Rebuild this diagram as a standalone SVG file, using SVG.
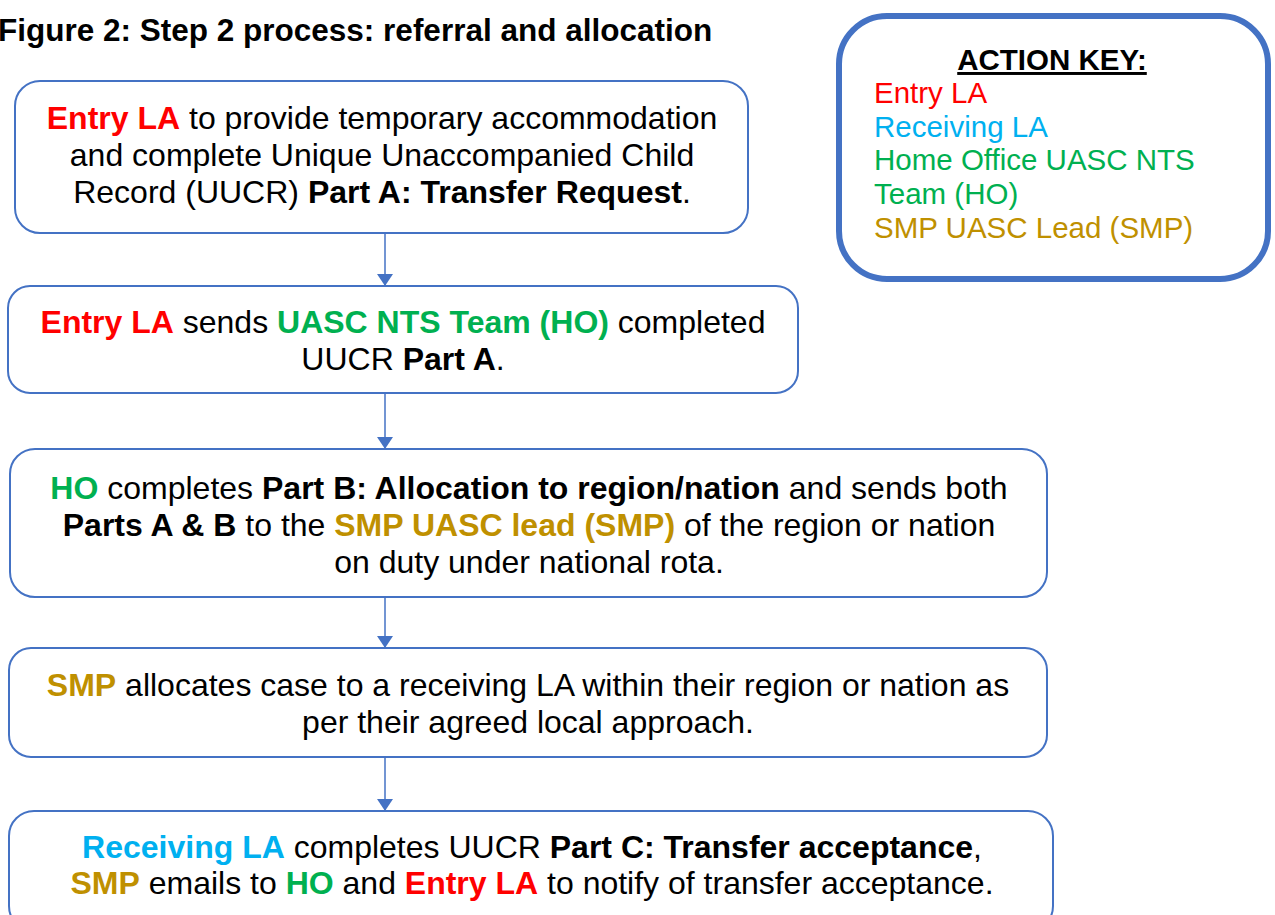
<svg xmlns="http://www.w3.org/2000/svg" width="1275" height="915" viewBox="0 0 1275 915">
<style>
text{font-family:"Liberation Sans",Arial,sans-serif;font-size:32px;fill:#000}
.c{text-anchor:middle}
.b{font-weight:bold}
.r{fill:#FF0000}
.bl{fill:#00B0F0}
.g{fill:#00B050}
.o{fill:#BF9000}
.k{font-size:29.5px}
.box{fill:#fff;stroke:#4472C4;stroke-width:2}
.key{fill:#fff;stroke:#4472C4;stroke-width:6}
.con{stroke:#4472C4;stroke-width:1.5;fill:none}
</style>
<defs>
<marker id="ah" viewBox="0 0 12 16" refX="12" refY="8" markerWidth="12" markerHeight="16" markerUnits="userSpaceOnUse" orient="auto">
<path d="M0,0 L12,8 L0,16 Z" fill="#4472C4"/>
</marker>
</defs>
<rect width="1275" height="915" fill="#fff"/>
<text x="-2" y="41" class="b" style="font-size:31.5px">Figure 2: Step 2 process: referral and allocation</text>

<g id="connectors">
<line class="con" x1="385" y1="234" x2="385" y2="286" marker-end="url(#ah)"/>
<line class="con" x1="385" y1="394" x2="385" y2="449" marker-end="url(#ah)"/>
<line class="con" x1="385" y1="598" x2="385" y2="648" marker-end="url(#ah)"/>
<line class="con" x1="385" y1="758" x2="385" y2="811" marker-end="url(#ah)"/>
</g>

<g id="key">
<rect class="key" x="839" y="16" width="429" height="263" rx="48"/>
<text x="1052" y="70" class="c b k" text-decoration="underline">ACTION KEY:</text>
<text x="874" y="103" class="r k">Entry LA</text>
<text x="874" y="137" class="bl k">Receiving LA</text>
<text x="874" y="170" class="g k">Home Office UASC NTS</text>
<text x="874" y="204" class="g k">Team (HO)</text>
<text x="874" y="238" class="o k">SMP UASC Lead (SMP)</text>
</g>

<g id="n1">
<rect class="box" x="15" y="81" width="733" height="152" rx="25"/>
<text x="382" y="129" class="c"><tspan class="b r">Entry LA</tspan> to provide temporary accommodation</text>
<text x="382" y="166" class="c">and complete Unique Unaccompanied Child</text>
<text x="382" y="203" class="c">Record (UUCR) <tspan class="b">Part A: Transfer Request</tspan>.</text>
</g>

<g id="n2">
<rect class="box" x="8" y="286" width="790" height="107" rx="22"/>
<text x="403" y="333" class="c"><tspan class="b r">Entry LA</tspan> sends <tspan class="b g">UASC NTS Team (HO)</tspan> completed</text>
<text x="403" y="370" class="c">UUCR <tspan class="b">Part A</tspan>.</text>
</g>

<g id="n3">
<rect class="box" x="10" y="449" width="1037" height="148" rx="25"/>
<text x="529" y="499" class="c"><tspan class="b g">HO</tspan> completes <tspan class="b">Part B: Allocation to region/nation</tspan> and sends both</text>
<text x="529" y="536" class="c"><tspan class="b">Parts A &amp; B</tspan> to the <tspan class="b o">SMP UASC lead (SMP)</tspan> of the region or nation</text>
<text x="529" y="573" class="c">on duty under national rota.</text>
</g>

<g id="n4">
<rect class="box" x="9" y="648" width="1038" height="109" rx="22"/>
<text x="528" y="696" class="c"><tspan class="b o">SMP</tspan> allocates case to a receiving LA within their region or nation as</text>
<text x="528" y="733" class="c">per their agreed local approach.</text>
</g>

<g id="n5">
<rect class="box" x="9" y="811" width="1044" height="120" rx="25"/>
<text x="532" y="858" class="c"><tspan class="b bl">Receiving LA</tspan> completes UUCR <tspan class="b">Part C: Transfer acceptance</tspan>,</text>
<text x="532" y="894" class="c"><tspan class="b o">SMP</tspan> emails to <tspan class="b g">HO</tspan> and <tspan class="b r">Entry LA</tspan> to notify of transfer acceptance.</text>
</g>
</svg>
